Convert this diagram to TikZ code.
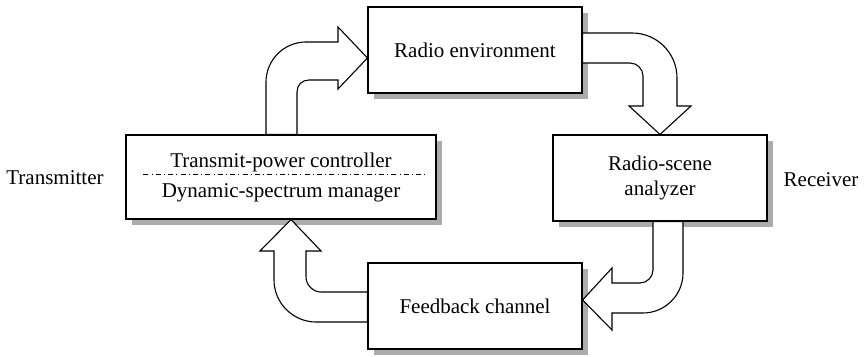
\documentclass[tikz,border=0pt]{standalone}
\usepackage{fontspec}
\setmainfont{Liberation Serif}
\usetikzlibrary{calc,shadows}

\begin{document}
\begin{tikzpicture}[
  x=0.5pt, y=-0.5pt,
  line width=0.55pt,
  every node/.style={
    font=\fontsize{10.5}{12.6}\selectfont,
    align=center
  },
  block/.style={
    draw,
    fill=white,
    minimum width=107pt,
    minimum height=43pt,
    inner sep=0pt,
    drop shadow={shadow xshift=3pt, shadow yshift=-3pt, fill=gray!65, opacity=1}
  },
  fatarrow/.style={draw, fill=white, line join=miter},
  dashdotline/.style={line width=0.4pt, dash pattern=on 2.5pt off 1.6pt on 0.5pt off 1.6pt}
]
\useasboundingbox (0,0) rectangle (865,357);

\node[block] (env) at (475,50) {Radio environment};
\node[block, minimum width=155pt, minimum height=42pt] (tx) at (281,177)
  {Transmit-power controller\\[2.4pt]Dynamic-spectrum manager};
\node[block] (rsa) at (660,178) {Radio-scene\\analyzer};
\node[block] (fb) at (475,306) {Feedback channel};

\node (txlabel) at (55,178) {Transmitter};
\node (rxlabel) at (821,180) {Receiver};

% divider inside the transmitter box
\draw[dashdotline] ($(tx.west)+(18,-3)$) -- ($(tx.east)+(-11,-3)$);

% transmitter -> radio environment
\path[fatarrow] ($(tx.north)+(-15,0)$) -- (266,82)
  .. controls (266,60) and (284,42) .. (306,42) -- (338,42) -- (338,27)
  -- ($(env.west)+(0,8)$) -- (338,89) -- (338,80) -- (309,80)
  .. controls (302,80) and (297,85) .. (297,92) -- ($(tx.north)+(16,0)$) -- cycle;

% radio environment -> radio-scene analyzer
\path[fatarrow] ($(env.east)+(0,-17)$) -- (632,33)
  .. controls (657,33) and (677,53) .. (677,78) -- (677,106) -- (691,106)
  -- (rsa.north) -- (629,106) -- (643,106) -- (643,76)
  .. controls (643,69) and (637,63) .. (630,63) -- ($(env.east)+(0,13)$) -- cycle;

% radio-scene analyzer -> feedback channel
\path[fatarrow] ($(rsa.south)+(-7,0)$) -- (653,270)
  .. controls (653,277) and (647,283) .. (640,283) -- (612,283) -- (612,268)
  -- ($(fb.east)+(0,-6)$) -- (612,330) -- (612,313) -- (643,313)
  .. controls (665,313) and (683,295) .. (683,273) -- ($(rsa.south)+(23,0)$) -- cycle;

% feedback channel -> transmitter
\path[fatarrow] ($(fb.west)+(0,-14)$) -- (321,292)
  .. controls (313,292) and (306,285) .. (306,277) -- (306,251) -- (321,251)
  -- ($(tx.south)+(10,0)$) -- (260,251) -- (274,251) -- (274,280)
  .. controls (274,303) and (293,322) .. (316,322) -- ($(fb.west)+(0,16)$) -- cycle;
\end{tikzpicture}
\end{document}
